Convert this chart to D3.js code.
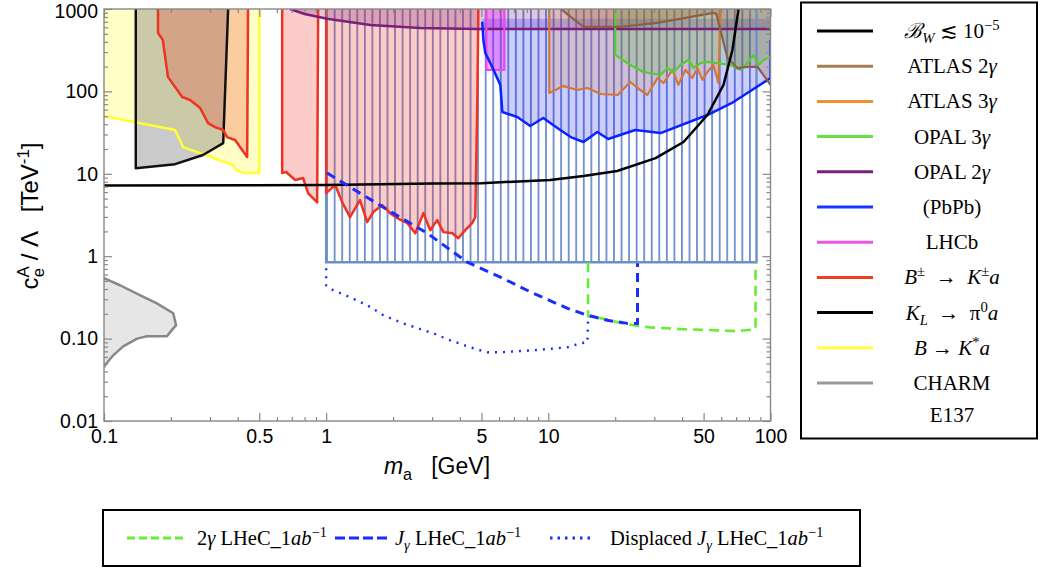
<!DOCTYPE html>
<html><head><meta charset="utf-8">
<script src="https://cdn.jsdelivr.net/npm/d3@7"></script>
<style>body{margin:0;background:#fff}text{white-space:pre}</style>
</head><body><svg id="c" width="1042" height="571"></svg>
<script>
// ---------- tick labels ----------
const xTicksMajor=[0.1,0.5,1,5,10,50,100];
const xTickLabels=["0.1","0.5","1","5","10","50","100"];
const xTicksMinor=[0.2,0.3,0.4,0.6,0.7,0.8,0.9,2,3,4,6,7,8,9,20,30,40,60,70,80,90];
const yTicksMajor=[0.01,0.1,1,10,100,1000];
const yTickLabels=["0.01","0.10","1","10","100","1000"];
const yTicksMinor=[];
[0.01,0.1,1,10,100].forEach(d=>{for(let k=2;k<10;k++) yTicksMinor.push(d*k);});

// ---------- data: [m_a (GeV), c/Lambda (TeV^-1)] ----------
const BKstar=[[0.1,1000],[0.1,50],[0.209,34],[0.227,21.1],[0.381,12.8],[0.393,11.1],[0.432,10.2],[0.5,10.2],[0.5,1000]];
const KLpi0=[[0.139,1000],[0.139,11.7],[0.209,13.1],[0.279,16.9],[0.344,23.6],[0.362,1000]];
const Bpm1=[[0.175,1000],[0.175,512],[0.184,421],[0.194,150],[0.203,126],[0.225,85.5],[0.244,78.6],[0.271,62.8],[0.294,41.3],[0.316,36.9],[0.344,34],[0.358,27.9],[0.389,25.7],[0.441,16],[0.445,1000]];
const Bpm2=[[0.634,1000],[0.634,10.2],[0.66,10.5],[0.725,8.4],[0.787,8.9],[0.83,5.8],[0.911,4.5],[0.92,1000]];
const Bpm3=[[1.0,1000],[1.0,5.83],[1.098,7.3],[1.18,4.53],[1.28,2.98],[1.42,4.79],[1.53,2.59],[1.63,3.43],[1.79,4.17],[1.94,3.33],[2.09,2.9],[2.32,2.52],[2.52,1.9],[2.74,3.33],[2.94,2.07],[3.16,2.74],[3.37,1.96],[3.7,1.9],[3.93,1.65],[4.23,2.07],[4.54,2.52],[4.69,2.98],[4.79,78.5],[4.84,1000]];
const charm=[[0.1,0.54],[0.118,0.444],[0.145,0.336],[0.173,0.268],[0.205,0.203],[0.211,0.145],[0.205,0.133],[0.192,0.107],[0.156,0.107],[0.141,0.1],[0.122,0.0806],[0.11,0.0627],[0.101,0.0474],[0.1,0.0448]];
const BW=[[0.1,7.2],[1,7.3],[3,7.6],[5,7.7],[10.2,8.4],[14.4,9.4],[20.4,10.8],[30.4,15.5],[40.6,24.3],[52,51.7],[61.4,119.7],[67.4,318],[71.8,1000]];
const hatchBox=[[1,0.845],[86.5,1000]];
const opal2g=[[0.688,1000],[0.8,871],[1.01,760],[1.58,641],[2.65,589],[4.79,573],[100,573]];
const pbpb=[[5.04,700],[5.1,421],[5.2,293],[5.59,198],[6.08,120],[6.21,56.2],[7.25,48.9],[8.29,38],[9.49,47.5],[10.98,35.9],[12.6,27.9],[14.4,24.3],[16.6,32.1],[18.6,26.4],[24.6,34],[32,31.2],[52,51.7],[68.1,74.3],[100,145.5],[100,421]];
const pbpbTop=760;
const lhcb=[[5.26,1000],[5.26,182],[6.34,182],[6.34,1000]];
const atlas3g=[[10.1,1000],[10.1,95.6],[11.7,116],[13.5,104],[15,110],[17.2,93],[20.5,90.4],[23.4,130],[25.2,110],[27.9,90.4],[31,145],[33,126],[36.2,182],[38.5,120],[41.4,182],[44.5,145],[46.9,192],[49.4,138],[52,172],[55.4,209],[58.3,126],[59.6,1000]];
const opal3g=[[20,1000],[20,277],[23.4,209],[26.8,172],[32,158],[34.4,192],[36.6,172],[39.3,209],[42.7,241],[45,192],[48.4,221],[52,228],[66.1,209],[73.2,182],[78.8,221],[83.8,277],[88.3,209],[93,241],[100,262]];
const atlas2g=[[11.4,1000],[12.6,802],[14.4,606],[21.1,606],[31,678],[55.4,897],[57.1,872],[64,255],[71,192],[78.8,198],[87.4,198],[93,158],[100,120]];
const lhec2g=[[15.1,0.845],[15.1,0.187],[17.2,0.177],[20.5,0.158],[24.1,0.145],[28.8,0.137],[40.5,0.13],[57.7,0.126],[71,0.123],[85.6,0.13],[85.6,0.845]];
const lhecJ=[[1.01,10.2],[1.42,5.83],[2.0,3.33],[2.85,1.9],[4.32,0.845],[6.08,0.556],[8.56,0.355],[12.2,0.233],[15,0.192],[18.4,0.167],[22.7,0.153],[25.2,0.153],[25.2,0.822]];
const lhecDisp=[[1,0.715],[1,0.444],[1.075,0.386],[1.28,0.318],[1.53,0.254],[1.81,0.192],[2.22,0.153],[3.03,0.116],[3.62,0.0954],[4.45,0.0784],[5.31,0.0682],[6.08,0.0682],[8.56,0.0721],[12.2,0.0784],[13.9,0.0877],[15,0.0902],[15.1,0.187]];

// ---------- legends ----------
const legendColors=["#000000","#a47c52","#f09030","#66e040","#7a1f7a","#1a35ff","#ee55ee","#ee3b22","#000000","#ffff40","#999999",null];
const legendLabels=[
 [{t:"ℬ",it:1},{t:"W",it:1,sh:"sub"},{t:" ≲ 10"},{t:"−5",sh:"sup"}],
 [{t:"ATLAS 2"},{t:"γ",it:1}],
 [{t:"ATLAS 3"},{t:"γ",it:1}],
 [{t:"OPAL 3"},{t:"γ",it:1}],
 [{t:"OPAL 2"},{t:"γ",it:1}],
 [{t:"(PbPb)"}],
 [{t:"LHCb"}],
 [{t:"B",it:1},{t:"±",sh:"sup"},{t:"  →  "},{t:"K",it:1},{t:"±",sh:"sup"},{t:"a",it:1}],
 [{t:"K",it:1},{t:"L",it:1,sh:"sub"},{t:"  →  "},{t:"π"},{t:"0",sh:"sup"},{t:"a",it:1}],
 [{t:"B",it:1},{t:" → "},{t:"K",it:1},{t:"*",sh:"sup"},{t:"a",it:1}],
 [{t:"CHARM"}],
 [{t:"E137"}]
];
const bottomColors=["#66ee33","#1a2cff","#1a2cff"];
const bottomDash=["8,4","10,4","2.5,5"];
const bottomLabels=[
 [{t:"2"},{t:"γ",it:1},{t:" LHeC_1"},{t:"ab",it:1},{t:"−1",sh:"sup"}],
 [{t:"J",it:1},{t:"γ",it:1,sh:"sub"},{t:" LHeC_1"},{t:"ab",it:1},{t:"−1",sh:"sup"}],
 [{t:"Displaced "},{t:"J",it:1},{t:"γ",it:1,sh:"sub"},{t:" LHeC_1"},{t:"ab",it:1},{t:"−1",sh:"sup"}]
];

// ---------- drawing ----------
const svg=d3.select("#c");
const L=104,R=770.5,T=9,B=421;
const x=d3.scaleLog().domain([0.1,100]).range([L,R]);
const y=d3.scaleLog().domain([0.01,1000]).range([B,T]);
const line=d3.line().x(d=>x(d[0])).y(d=>y(d[1]));

function rich(text,segs,fs){
  let shift=0;
  segs.forEach(s=>{
    const ts=text.append("tspan").text(s.t);
    let target=0, size=fs;
    if(s.sh==="sup"){target=-0.38*fs;size=fs*0.7;}
    if(s.sh==="sub"){target=0.25*fs;size=fs*0.7;}
    ts.attr("font-size",size);
    if(target!==shift){ts.attr("dy",target-shift);shift=target;}
    if(s.dx) ts.attr("dx",s.dx);
    if(s.it) ts.attr("font-style","italic");
  });
}

const defs=svg.append("defs");
defs.append("clipPath").attr("id","clip").append("rect").attr("x",L).attr("y",T).attr("width",R-L).attr("height",B-T);
const pat=defs.append("pattern").attr("id","hatch").attr("patternUnits","userSpaceOnUse")
  .attr("x",x(hatchBox[0][0])).attr("y",0).attr("width",7.55).attr("height",20);
pat.append("line").attr("x1",0.9).attr("x2",0.9).attr("y1",0).attr("y2",20).attr("stroke","#6e8ecb").attr("stroke-width",1.8);

const g=svg.append("g").attr("clip-path","url(#clip)");

// hatch region
const hx0=x(hatchBox[0][0]),hx1=x(hatchBox[1][0]),hy0=y(hatchBox[1][1]),hy1=y(hatchBox[0][1]);
g.append("rect").attr("x",hx0).attr("y",hy0).attr("width",hx1-hx0).attr("height",hy1-hy0).attr("fill","url(#hatch)");

function fillPoly(pts,color,op){
  g.append("path").attr("d",line(pts)+"Z").attr("fill",color).attr("fill-opacity",op).attr("stroke","none");
}
fillPoly(BKstar,"#ffff00",0.22);
fillPoly(KLpi0,"#808080",0.42);
fillPoly(Bpm1,"#f03228",0.25);
fillPoly(Bpm2,"#f03228",0.25);
fillPoly(Bpm3,"#f03228",0.25);
fillPoly(opal2g.concat([[100,1000]]),"#802080",0.25);
fillPoly([[pbpb[0][0],pbpbTop]].concat(pbpb,[[100,pbpbTop]]),"#0000ff",0.2);
fillPoly(lhcb,"#ff00ff",0.3);
fillPoly(atlas3g,"#e8802a",0.2);
fillPoly(opal3g.concat([[100,1000]]),"#40c020",0.2);
fillPoly(atlas2g.concat([[100,1000]]),"#8a5a30",0.25);
fillPoly(charm,"#c8c8c8",0.45);

// hatch border
g.append("path").attr("d",`M${hx0},${hy0}V${hy1}H${hx1}V${hy0}`).attr("fill","none").attr("stroke","#6e8ecb").attr("stroke-width",2.4);

function strokeLine(pts,color,w,dash){
  const p=g.append("path").attr("d",line(pts)).attr("fill","none").attr("stroke",color).attr("stroke-width",w).attr("stroke-linejoin","round");
  if(dash) p.attr("stroke-dasharray",dash);
}
strokeLine(BKstar.slice(1),"#ffff33",2.5);
strokeLine(KLpi0,"#111",2.5);
strokeLine(Bpm1,"#ee3322",2.5);
strokeLine(Bpm2,"#ee3322",2.5);
strokeLine(Bpm3,"#ee3322",2.5);
strokeLine(opal2g,"#7a1f7a",2.5);
strokeLine(lhcb,"#ee44ee",2.2);
strokeLine(pbpb,"#0a22ff",2.5);
strokeLine(atlas3g,"#d0783a",2.2);
strokeLine(opal3g,"#55cc33",2.2);
strokeLine(atlas2g,"#8a6048",2.2);
strokeLine(BW,"#000",2.5);
strokeLine(charm,"#888",2.5);
strokeLine(lhec2g,"#66ee33",2.6,"10,6");
strokeLine(lhecJ,"#1a2cff",3,"9,6");
strokeLine(lhecDisp,"#1a2cff",2.4,"2,6");

// axes
const tickCol="#888";
function styleAxis(a){a.select(".domain").remove();a.selectAll(".tick line").attr("stroke",tickCol).attr("stroke-width",1.2);
  a.selectAll("text").attr("font-family","Liberation Sans, Arial, sans-serif").attr("font-size",19.5).attr("fill","#000");}
svg.append("g").attr("transform",`translate(0,${B})`).call(d3.axisBottom(x).tickValues(xTicksMajor).tickFormat((d,i)=>xTickLabels[i]).tickSize(-8).tickPadding(8)).call(styleAxis);
svg.append("g").attr("transform",`translate(0,${B})`).call(d3.axisBottom(x).tickValues(xTicksMinor).tickFormat("").tickSize(-4)).call(styleAxis);
svg.append("g").attr("transform",`translate(0,${T})`).call(d3.axisTop(x).tickValues(xTicksMajor).tickFormat("").tickSize(-8)).call(styleAxis);
svg.append("g").attr("transform",`translate(0,${T})`).call(d3.axisTop(x).tickValues(xTicksMinor).tickFormat("").tickSize(-4)).call(styleAxis);
const yAx=svg.append("g").attr("transform",`translate(${L},0)`).call(d3.axisLeft(y).tickValues(yTicksMajor).tickFormat((d,i)=>yTickLabels[i]).tickSize(-8).tickPadding(6)).call(styleAxis);
yAx.selectAll(".tick text").filter(d=>d===1000).attr("dy","0.42em");
svg.append("g").attr("transform",`translate(${L},0)`).call(d3.axisLeft(y).tickValues(yTicksMinor).tickFormat("").tickSize(-4)).call(styleAxis);
svg.append("g").attr("transform",`translate(${R},0)`).call(d3.axisRight(y).tickValues(yTicksMajor).tickFormat("").tickSize(-8)).call(styleAxis);
svg.append("g").attr("transform",`translate(${R},0)`).call(d3.axisRight(y).tickValues(yTicksMinor).tickFormat("").tickSize(-4)).call(styleAxis);
svg.append("rect").attr("x",L).attr("y",T).attr("width",R-L).attr("height",B-T).attr("fill","none").attr("stroke",tickCol).attr("stroke-width",1.4);

// axis titles
const sans="Liberation Sans, Arial, sans-serif";
const xt=svg.append("text").attr("x",437).attr("y",474).attr("text-anchor","middle").attr("font-family",sans).attr("font-size",23);
rich(xt,[{t:"m",it:1},{t:"a",sh:"sub"},{t:"   [GeV]"}],23);
const yt=svg.append("text").attr("transform","translate(38,216) rotate(-90)").attr("text-anchor","middle").attr("font-family",sans).attr("font-size",24);
rich(yt,[{t:"c"},{t:"A",sh:"sup"},{t:"e",sh:"sub",dx:-11},{t:" / Λ   [TeV",dx:1},{t:"-1",sh:"sup"},{t:"]"}],24);

// right legend
const serif="Liberation Serif, Times New Roman, serif";
svg.append("rect").attr("x",801).attr("y",2.5).attr("width",236).attr("height",436).attr("fill","#fff").attr("stroke","#000").attr("stroke-width",2);
legendLabels.forEach((segs,i)=>{
  const yy = i<11 ? 31+i*35.2 : 415;
  if(legendColors[i]) svg.append("line").attr("x1",817).attr("x2",873).attr("y1",yy).attr("y2",yy).attr("stroke",legendColors[i]).attr("stroke-width",3);
  const t=svg.append("text").attr("x",952).attr("y",yy+7).attr("text-anchor","middle").attr("font-family",serif).attr("font-size",21).attr("fill","#000");
  rich(t,segs,21);
});

// bottom legend
svg.append("rect").attr("x",103).attr("y",510).attr("width",757).attr("height",56).attr("fill","#fff").attr("stroke","#000").attr("stroke-width",2);
const bx=[[127,185,197],[335,390,395],[550,595,610]];
bottomLabels.forEach((segs,i)=>{
  svg.append("line").attr("x1",bx[i][0]).attr("x2",bx[i][1]).attr("y1",538).attr("y2",538).attr("stroke",bottomColors[i]).attr("stroke-width",3).attr("stroke-dasharray",bottomDash[i]);
  const t=svg.append("text").attr("x",bx[i][2]).attr("y",545).attr("font-family",serif).attr("font-size",20.5).attr("fill","#000");
  rich(t,segs,20.5);
});
</script></body></html>
